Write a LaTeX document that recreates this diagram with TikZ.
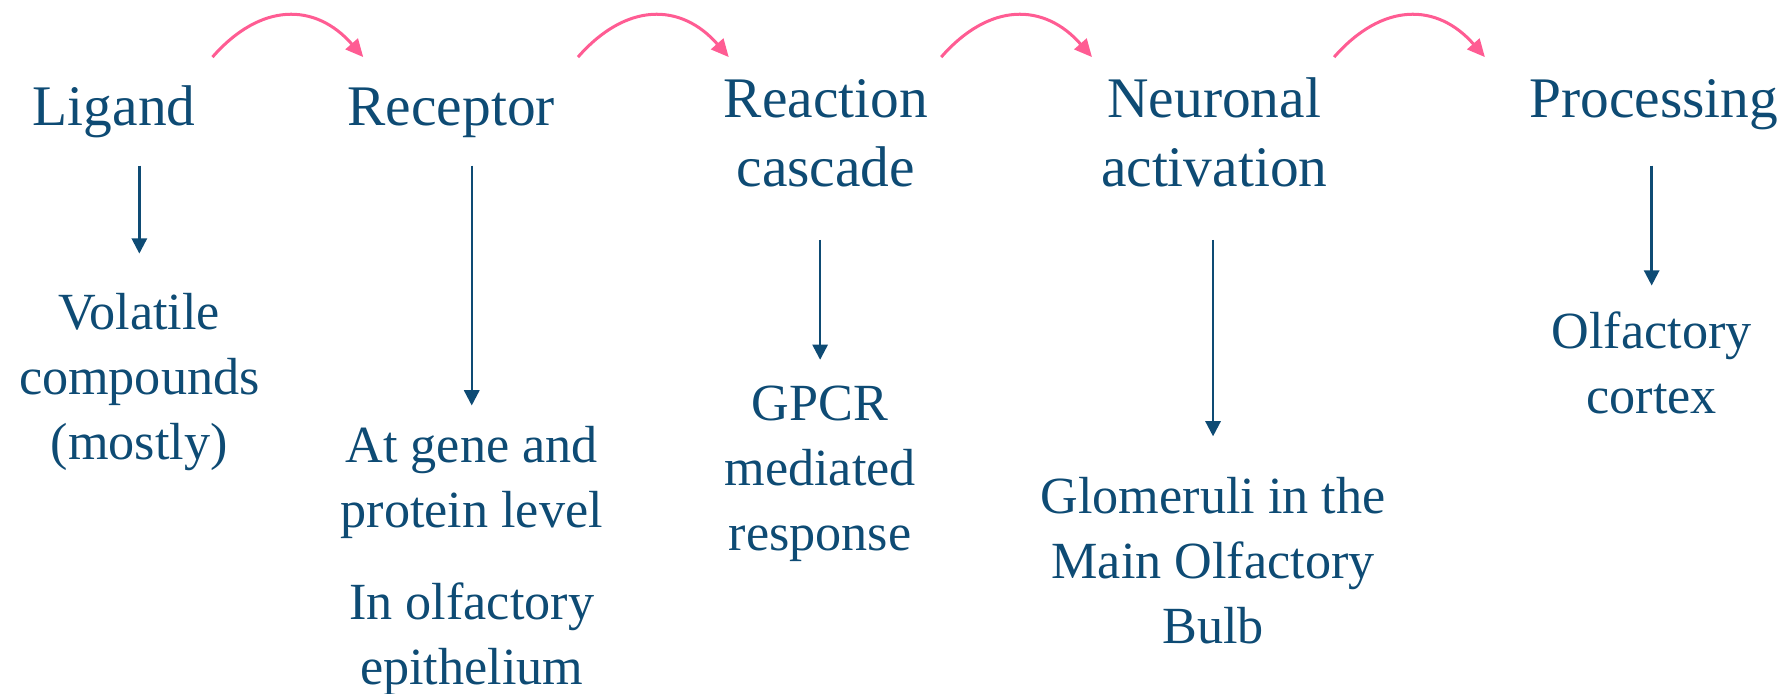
\documentclass[tikz,border=0pt]{standalone}
\usepackage{fontspec}
\setmainfont{Liberation Serif}
\usetikzlibrary{arrows.meta}
\definecolor{navy}{HTML}{0E4B74}
\definecolor{rose}{HTML}{FF5C93}
\begin{document}
\begin{tikzpicture}[
    head/.style={anchor=base, align=center, inner sep=0pt, text=navy,
                 font=\fontsize{14.3}{17}\selectfont},
    note/.style={anchor=base, align=center, inner sep=0pt, text=navy,
                 font=\fontsize{13}{16.2}\selectfont},
    down/.style={navy, line width=0.6pt, -{Triangle[length=3.8pt, width=3.8pt]}},
    hop/.style={rose, line width=0.75pt, -{Triangle[length=4.4pt, width=4pt]}}]
    \useasboundingbox (0,0) rectangle (15.68,-6.07);
    % steps along the top (base = last line)
    \node[head] (lig) at (1.00,-1.10) {Ligand};
    \node[head] (rec) at (3.95,-1.10) {Receptor};
    \node[head] (rea) at (7.23,-1.63) {Reaction\\cascade};
    \node[head] (neu) at (10.63,-1.63) {Neuronal\\activation};
    \node[head] (pro) at (14.48,-1.03) {Processing};
    % what each step means
    \node[note] (vol) at (1.22,-4.02) {Volatile\\compounds\\(mostly)};
    \node[note] (gene) at (4.13,-4.62) {At gene and\\protein level};
    \node[note] (epi) at (4.13,-5.99) {In olfactory\\epithelium};
    \node[note] (gpcr) at (7.18,-4.82) {GPCR\\mediated\\response};
    \node[note] (glom) at (10.62,-5.63) {Glomeruli in the\\Main Olfactory\\Bulb};
    \node[note] (cor) at (14.46,-3.62) {Olfactory\\cortex};
    % arrows down
    \draw[down] (vol |- 0,-1.45) -- (vol |- 0,-2.22);
    \draw[down] (gene |- 0,-1.45) -- (gene |- 0,-3.55);
    \draw[down] (gpcr |- 0,-2.10) -- (gpcr |- 0,-3.15);
    \draw[down] (glom |- 0,-2.10) -- (glom |- 0,-3.82);
    \draw[down] (cor |- 0,-1.45) -- (cor |- 0,-2.50);
    % hops between steps
    \foreach \a in {1.86,5.06,8.24,11.68}
        \draw[hop] (\a,-0.50) .. controls +(0.42,0.48) and +(-0.42,0.48) .. +(1.32,0);
\end{tikzpicture}
\end{document}
